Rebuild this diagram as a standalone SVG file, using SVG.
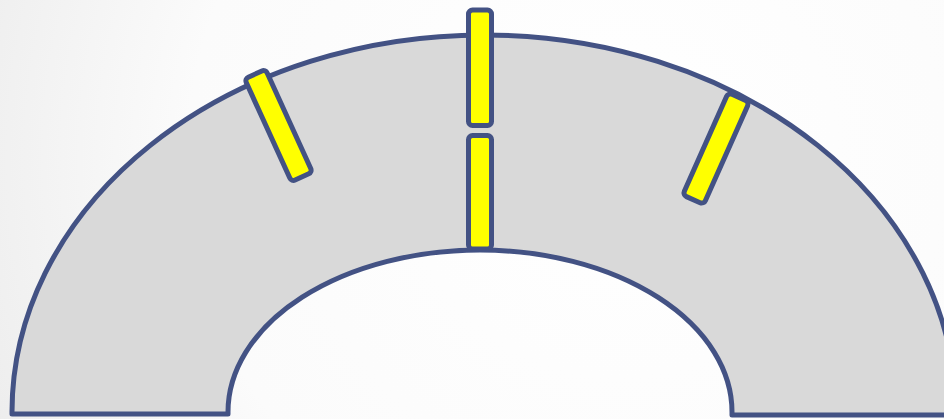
<svg xmlns="http://www.w3.org/2000/svg" width="944" height="419" viewBox="0 0 944 419">
<defs>
<radialGradient id="bg" cx="620" cy="160" r="720" gradientUnits="userSpaceOnUse">
<stop offset="0" stop-color="#ffffff"/>
<stop offset="0.6" stop-color="#fbfbfb"/>
<stop offset="1" stop-color="#ebebeb"/>
</radialGradient>
<style>
.arch{fill:#d9d9d9;stroke:#435284;stroke-width:5;stroke-linejoin:round}
.bar{fill:#ffff00;stroke:#435284;stroke-width:5}
</style>
</defs>
<rect x="0" y="0" width="944" height="419" fill="url(#bg)"/>
<g id="arch">
<path class="arch" d="M 12 414 L 12 412 A 472 377 0 0 1 956 412 L 956 415 L 732 415 L 732 412 A 252 162 0 0 0 228 412 L 228 414 Z"/>
</g>
<g id="bar-top">
<rect class="bar" x="468.5" y="10" width="23" height="115.5" rx="4"/>
</g>
<g id="bar-middle">
<rect class="bar" x="468.5" y="135.5" width="23" height="113.5" rx="4"/>
</g>
<g id="bar-left">
<rect class="bar" x="-11.5" y="-56.5" width="23" height="113" rx="4" transform="translate(278.5 125.5) rotate(-24.5)"/>
</g>
<g id="bar-right">
<rect class="bar" x="-11.5" y="-56" width="23" height="112" rx="4" transform="translate(716 148.5) rotate(24)"/>
</g>
<g id="connectors"/>
</svg>
